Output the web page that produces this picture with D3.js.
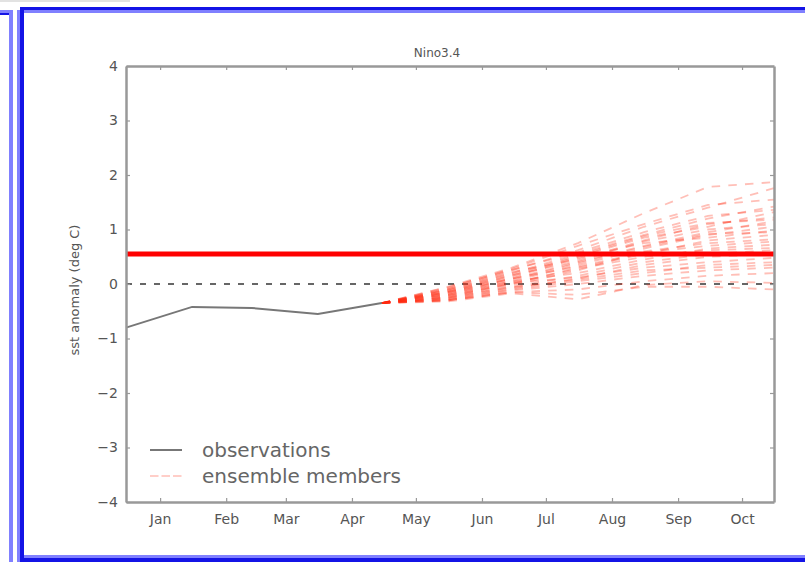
<!DOCTYPE html>
<html>
<head>
<meta charset="utf-8">
<script src="https://cdn.jsdelivr.net/npm/d3@7"></script>
<style>
body { margin: 0; background: #fff; }
text { font-family: "DejaVu Sans", sans-serif; }
</style>
</head>
<body>
<div id="chart"></div>
<script>
var width = 805;
var height = 562;

// observed monthly anomalies (start of month)
var obsDates = ["2015-01-01", "2015-02-01", "2015-03-01", "2015-04-01", "2015-05-01"];
var obsValues = [-0.80, -0.42, -0.44, -0.55, -0.35];

// ensemble forecast: knots at start of month, all starting from last observation
var ensDates = ["2015-05-01", "2015-06-01", "2015-07-01", "2015-08-01", "2015-09-01", "2015-10-01", "2015-11-01"];
var ensMembers = [
    [-0.35, -0.05, 0.30, 0.75, 1.30, 1.78, 1.87],
    [-0.35, -0.10, 0.25, 0.62, 1.05, 1.40, 1.76],
    [-0.35, -0.08, 0.28, 0.70, 1.10, 1.45, 1.55],
    [-0.35, -0.12, 0.20, 0.55, 0.90, 1.20, 1.42],
    [-0.35, -0.06, 0.26, 0.58, 0.95, 1.25, 1.36],
    [-0.35, -0.15, 0.15, 0.50, 0.85, 1.05, 1.32],
    [-0.35, -0.10, 0.22, 0.45, 0.80, 1.10, 1.22],
    [-0.35, -0.12, 0.18, 0.52, 0.88, 1.12, 1.18],
    [-0.35, -0.18, 0.10, 0.40, 0.70, 0.95, 1.15],
    [-0.35, -0.14, 0.16, 0.42, 0.78, 1.00, 1.10],
    [-0.35, -0.20, 0.05, 0.35, 0.65, 0.90, 1.05],
    [-0.35, -0.15, 0.12, 0.48, 0.75, 0.85, 0.98],
    [-0.35, -0.18, 0.08, 0.38, 0.68, 0.92, 0.95],
    [-0.35, -0.22, 0.00, 0.30, 0.55, 0.80, 0.90],
    [-0.35, -0.25, -0.02, 0.25, 0.60, 0.75, 0.82],
    [-0.35, -0.16, 0.10, 0.32, 0.58, 0.70, 0.78],
    [-0.35, -0.20, 0.05, 0.20, 0.45, 0.65, 0.72],
    [-0.35, -0.24, 0.02, 0.28, 0.50, 0.62, 0.66],
    [-0.35, -0.25, -0.05, 0.15, 0.40, 0.55, 0.62],
    [-0.35, -0.28, -0.08, 0.10, 0.35, 0.50, 0.55],
    [-0.35, -0.22, 0.02, 0.12, 0.30, 0.40, 0.48],
    [-0.35, -0.28, -0.10, 0.05, 0.20, 0.35, 0.40],
    [-0.35, -0.26, -0.06, 0.08, 0.25, 0.30, 0.35],
    [-0.35, -0.30, -0.12, 0.00, 0.15, 0.25, 0.30],
    [-0.35, -0.30, -0.15, -0.10, 0.05, 0.15, 0.20],
    [-0.35, -0.32, -0.17, -0.28, -0.02, 0.05, 0.02],
    [-0.35, -0.30, -0.15, -0.20, -0.05, -0.05, -0.10]
];

var meanLevel = 0.55;

var monthTicks = ["2015-01-17", "2015-02-17", "2015-03-17", "2015-04-17", "2015-05-17",
    "2015-06-17", "2015-07-17", "2015-08-17", "2015-09-17", "2015-10-17"];
var monthLabels = ["Jan", "Feb", "Mar", "Apr", "May", "Jun", "Jul", "Aug", "Sep", "Oct"];
var yTicks = [-4, -3, -2, -1, 0, 1, 2, 3, 4];

var parse = d3.utcParse("%Y-%m-%d");

var svg = d3.select("#chart").append("svg")
    .attr("width", width)
    .attr("height", height);

// blue page frame
var dark = "#1414e6", light = "#8080ff";
svg.append("rect").attr("x", 0).attr("y", 0).attr("width", 130).attr("height", 2).attr("fill", "#e2e2e2");
svg.append("rect").attr("x", 0).attr("y", 10).attr("width", 13).attr("height", 3).attr("fill", light);
svg.append("rect").attr("x", 0).attr("y", 13).attr("width", 13).attr("height", 2).attr("fill", dark);
svg.append("rect").attr("x", 9).attr("y", 13).attr("width", 4).attr("height", height).attr("fill", light);
svg.append("rect").attr("x", 17).attr("y", 10).attr("width", 3).attr("height", 552).attr("fill", light);
svg.append("rect").attr("x", 20).attr("y", 7).attr("width", 4).attr("height", 555).attr("fill", dark);
svg.append("rect").attr("x", 24).attr("y", 7).attr("width", 781).attr("height", 3).attr("fill", dark);
svg.append("rect").attr("x", 24).attr("y", 10).attr("width", 781).attr("height", 3).attr("fill", light);
svg.append("rect").attr("x", 24).attr("y", 555).attr("width", 781).attr("height", 3).attr("fill", light);
svg.append("rect").attr("x", 20).attr("y", 558).attr("width", 785).attr("height", 4).attr("fill", dark);

var plotLeft = 126, plotRight = 774, plotTop = 66, plotBottom = 502;

var x = d3.scaleUtc()
    .domain([parse("2015-01-01"), parse("2015-11-01")])
    .range([plotLeft, plotRight]);

var y = d3.scaleLinear()
    .domain([-4, 4])
    .range([plotBottom, plotTop]);

var line = d3.line()
    .x(function (d) { return x(d[0]); })
    .y(function (d) { return y(d[1]); });

var plot = svg.append("g");

// zero line
plot.append("line")
    .attr("x1", plotLeft).attr("x2", plotRight)
    .attr("y1", y(0)).attr("y2", y(0))
    .attr("stroke", "#666")
    .attr("stroke-width", 2)
    .attr("stroke-dasharray", "6,8");

// ensemble members
plot.selectAll(".member")
    .data(ensMembers)
    .enter().append("path")
    .attr("class", "member")
    .attr("d", function (m) {
        return line(m.map(function (v, i) { return [parse(ensDates[i]), v]; }));
    })
    .attr("fill", "none")
    .attr("stroke", "#ff2a10")
    .attr("stroke-opacity", 0.3)
    .attr("stroke-width", 1.8)
    .attr("stroke-dasharray", "8.5,8.2");

// observations
plot.append("path")
    .attr("d", line(obsValues.map(function (v, i) { return [parse(obsDates[i]), v]; })))
    .attr("fill", "none")
    .attr("stroke", "#777")
    .attr("stroke-width", 2);

// ensemble mean level
plot.append("line")
    .attr("x1", plotLeft).attr("x2", plotRight)
    .attr("y1", y(meanLevel)).attr("y2", y(meanLevel))
    .attr("stroke", "#ff0000")
    .attr("stroke-width", 5);

// axes frame
var axisColor = "#999";
var xAxisB = d3.axisBottom(x)
    .tickValues(monthTicks.map(parse))
    .tickFormat(function (d, i) { return monthLabels[i]; })
    .tickSizeInner(-4).tickSizeOuter(0).tickPadding(12);
var xAxisT = d3.axisTop(x)
    .tickValues(monthTicks.map(parse))
    .tickFormat("")
    .tickSizeInner(-4).tickSizeOuter(0);
var yAxisL = d3.axisLeft(y)
    .tickValues(yTicks)
    .tickFormat(function (d) { return d < 0 ? "\u2212" + Math.abs(d) : d; })
    .tickSizeInner(-4).tickSizeOuter(0).tickPadding(8);
var yAxisR = d3.axisRight(y)
    .tickValues(yTicks)
    .tickFormat("")
    .tickSizeInner(-4).tickSizeOuter(0);

function styleAxis(g) {
    g.select(".domain").attr("stroke", axisColor).attr("stroke-width", 2.5);
    g.selectAll(".tick line").attr("stroke", axisColor).attr("stroke-width", 1.2);
    g.selectAll(".tick text").attr("fill", "#555").style("font-size", "14px")
        .style("font-family", "DejaVu Sans, sans-serif");
}

svg.append("g").attr("transform", "translate(0," + plotBottom + ")").call(xAxisB).call(styleAxis);
svg.append("g").attr("transform", "translate(0," + plotTop + ")").call(xAxisT).call(styleAxis);
svg.append("g").attr("transform", "translate(" + plotLeft + ",0)").call(yAxisL).call(styleAxis);
svg.append("g").attr("transform", "translate(" + plotRight + ",0)").call(yAxisR).call(styleAxis);

// title and y label
svg.append("text")
    .attr("x", 437)
    .attr("y", 57)
    .attr("text-anchor", "middle")
    .attr("fill", "#555")
    .style("font-size", "12px")
    .text("Nino3.4");

svg.append("text")
    .attr("transform", "translate(79,290) rotate(-90)")
    .attr("text-anchor", "middle")
    .attr("fill", "#555")
    .style("font-size", "13px")
    .text("sst anomaly (deg C)");

// legend
var legend = svg.append("g").attr("transform", "translate(150,450)");
legend.append("line")
    .attr("x1", 0).attr("x2", 32).attr("y1", 0).attr("y2", 0)
    .attr("stroke", "#777").attr("stroke-width", 2);
legend.append("text")
    .attr("x", 52).attr("y", 7)
    .attr("fill", "#666")
    .style("font-size", "20px")
    .text("observations");
legend.append("line")
    .attr("x1", 0).attr("x2", 32).attr("y1", 26).attr("y2", 26)
    .attr("stroke", "#ff2a10").attr("stroke-opacity", 0.3)
    .attr("stroke-width", 1.6).attr("stroke-dasharray", "8.5,3");
legend.append("text")
    .attr("x", 52).attr("y", 33)
    .attr("fill", "#666")
    .style("font-size", "20px")
    .text("ensemble members");
</script>
</body>
</html>
